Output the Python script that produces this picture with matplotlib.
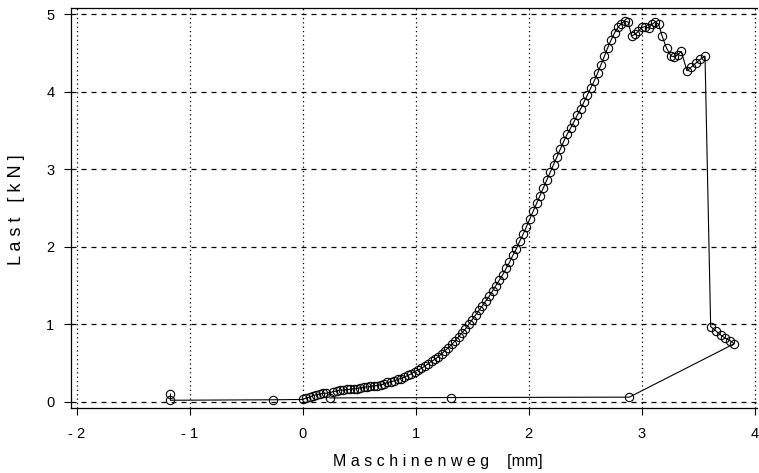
import matplotlib
matplotlib.use("Agg")
import matplotlib.pyplot as plt

# Rising branch of the load curve (Maschinenweg [mm], Last [kN])
start_x = [-1.17, -1.17, -0.26]
start_y = [0.10, 0.02, 0.026]

rise_x = [0.00, 0.03, 0.065, 0.09, 0.12, 0.15, 0.18, 0.21,
          0.27, 0.30, 0.33, 0.36, 0.39, 0.42, 0.45, 0.48, 0.51, 0.54, 0.57, 0.60,
          0.63, 0.66, 0.69, 0.72, 0.75, 0.78, 0.81, 0.84, 0.87, 0.90, 0.93, 0.96, 0.99,
          1.02, 1.05, 1.08, 1.11, 1.14, 1.17, 1.20, 1.23, 1.26, 1.29, 1.32, 1.35,
          1.38, 1.41, 1.44, 1.47, 1.50, 1.53, 1.56,
          1.59, 1.62, 1.65, 1.68, 1.71, 1.74, 1.77, 1.80, 1.83, 1.86, 1.89, 1.92,
          1.95, 1.98, 2.01, 2.04, 2.07, 2.10, 2.13, 2.16, 2.19, 2.22, 2.25, 2.28,
          2.31, 2.34, 2.37, 2.40, 2.43, 2.46, 2.49, 2.52, 2.55, 2.58, 2.61, 2.64,
          2.67, 2.70, 2.73, 2.76, 2.79, 2.82, 2.85, 2.88]
rise_y = [0.03, 0.05, 0.06, 0.08, 0.09, 0.10, 0.11, 0.11,
          0.13, 0.14, 0.15, 0.15, 0.16, 0.16, 0.17, 0.17, 0.18, 0.19, 0.19, 0.20,
          0.21, 0.21, 0.22, 0.23, 0.25, 0.26, 0.27, 0.29, 0.30, 0.32, 0.34, 0.36, 0.39,
          0.41, 0.43, 0.46, 0.49, 0.52, 0.55, 0.58, 0.62, 0.66, 0.70, 0.74, 0.79,
          0.84, 0.89, 0.94, 1.00, 1.06, 1.12, 1.18,
          1.24, 1.30, 1.36, 1.43, 1.50, 1.57, 1.64, 1.72, 1.80, 1.89, 1.97, 2.07,
          2.16, 2.26, 2.36, 2.46, 2.56, 2.66, 2.76, 2.86, 2.96, 3.06, 3.16, 3.26,
          3.36, 3.45, 3.53, 3.61, 3.70, 3.78, 3.87, 3.96, 4.05, 4.14, 4.24, 4.35,
          4.46, 4.57, 4.67, 4.76, 4.83, 4.88, 4.91, 4.90]

# Post-peak plateau with load drops
peak_x = [2.91, 2.94, 2.97, 3.00, 3.03, 3.06, 3.09, 3.12, 3.15, 3.18, 3.22,
          3.26, 3.29, 3.32, 3.35, 3.40, 3.44, 3.48, 3.52, 3.56]
peak_y = [4.72, 4.74, 4.78, 4.83, 4.84, 4.82, 4.87, 4.90, 4.87, 4.72, 4.56,
          4.46, 4.45, 4.48, 4.52, 4.27, 4.32, 4.37, 4.42, 4.46]

# After failure and return
end_x = [3.61, 3.66, 3.70, 3.74, 3.78, 3.82, 2.89, 1.31, 0.24]
end_y = [0.97, 0.91, 0.86, 0.82, 0.79, 0.75, 0.06, 0.055, 0.05]

x = start_x + rise_x + peak_x + end_x
y = start_y + rise_y + peak_y + end_y

xticks = [-2, -1, 0, 1, 2, 3, 4]
xticklabels = ["- 2", "- 1", "0", "1", "2", "3", "4"]
yticks = [0, 1, 2, 3, 4, 5]
yticklabels = ["0", "1", "2", "3", "4", "5"]

plt.rcParams['font.family'] = ['Liberation Sans', 'DejaVu Sans']

fig = plt.figure(figsize=(7.59, 4.73), dpi=100)
ax = fig.add_axes([71/759, 65/473, 686/759, 400/473])

ax.plot(x, y, color='black', lw=0.8, marker='o', markersize=6,
        markerfacecolor='none', markeredgecolor='black', markeredgewidth=0.8,
        zorder=3)

ax.set_xlim(-2.05, 4.02)
ax.set_ylim(-0.08, 5.08)

# grid: dotted vertical, dashed horizontal
for xv in xticks:
    ax.axvline(xv, color='black', lw=0.9, linestyle=(0, (1, 2.5)), zorder=1)
for yv in yticks:
    ax.axhline(yv, color='black', lw=0.9, linestyle=(0, (4, 4)), zorder=1)

ax.set_xticks(xticks)
ax.set_xticklabels(xticklabels)
ax.set_yticks(yticks)
ax.set_yticklabels(yticklabels)
ax.tick_params(axis='both', direction='out', length=5, width=0.8,
               labelsize=10.5, color='black')
ax.tick_params(axis='x', pad=9)
ax.tick_params(axis='y', pad=7)

for side in ['left', 'bottom', 'top']:
    ax.spines[side].set_linewidth(0.9)
ax.spines['right'].set_visible(False)

fig.text(438/759, 1 - 461/473, "M a s c h i n e n w e g    [mm]",
         ha='center', va='center', fontsize=11.5)
fig.text(17/759, 1 - 210/473, "L a s t   [ k N ]", rotation=90,
         ha='center', va='center', fontsize=13)

fig.savefig("out.png", dpi=100)
